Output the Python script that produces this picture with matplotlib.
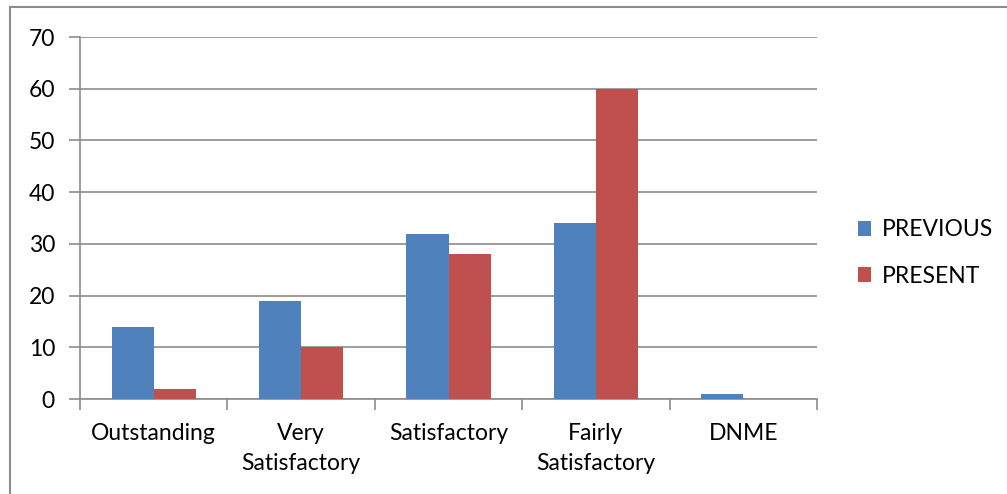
import matplotlib
matplotlib.use("Agg")
import matplotlib.pyplot as plt
import numpy as np
from matplotlib.patches import Rectangle, Patch

categories = ["Outstanding", "Very\nSatisfactory", "Satisfactory", "Fairly\nSatisfactory", "DNME"]
previous = [14, 19, 32, 34, 1]
present = [2, 10, 28, 60, 0]
series_names = ["PREVIOUS", "PRESENT"]
yticks = [0, 10, 20, 30, 40, 50, 60, 70]

plt.rcParams['font.family'] = ['Lato', 'DejaVu Sans']
FS = 16.5

W, H = 1007, 494
fig = plt.figure(figsize=(W/100, H/100), dpi=100)
fig.patches.append(Rectangle((10/W, -1), 2, 2 - 7/H, transform=fig.transFigure,
                             fill=False, edgecolor='#8c8c8c', linewidth=1.5, clip_on=False))

ax = fig.add_axes([80/W, 1 - 399/H, (817-80)/W, (399-37)/H])
x = np.arange(len(categories))
bw = 1/3.5
blue = '#4F81BD'
red = '#C0504D'
ax.bar(x - bw/2, previous, width=bw, color=blue, zorder=3)
ax.bar(x + bw/2, present, width=bw, color=red, zorder=3)

ax.set_xlim(-0.5, len(categories) - 0.5)
ax.set_ylim(0, 70)
ax.set_yticks(yticks)
ax.set_yticklabels([str(v) for v in yticks], fontsize=FS)
ax.yaxis.grid(True, color='#8c8c8c', linewidth=1.2, zorder=0)
ax.set_axisbelow(True)

ax.set_xticks(x)
ax.set_xticklabels(categories, fontsize=FS, linespacing=1.55, va='top')
ax.tick_params(axis='x', length=0, pad=17)
ax.set_xticks(np.arange(-0.5, len(categories), 1), minor=True)
ax.tick_params(axis='x', which='minor', length=8, width=1.2, color='#8c8c8c', direction='out')
ax.tick_params(axis='y', length=8, width=1.2, color='#8c8c8c', direction='out', pad=10)

for s in ['top', 'right']:
    ax.spines[s].set_visible(False)
for s in ['left', 'bottom']:
    ax.spines[s].set_color('#8c8c8c')
    ax.spines[s].set_linewidth(1.2)

handles = [Patch(facecolor=blue, edgecolor='none'), Patch(facecolor=red, edgecolor='none')]
fig.legend(handles, series_names, loc='center left', bbox_to_anchor=(837/W, 1 - 253/H),
           frameon=False, fontsize=FS, handlelength=0.6, handleheight=0.6,
           handletextpad=0.45, labelspacing=1.1)

fig.savefig("out.png", dpi=100)
